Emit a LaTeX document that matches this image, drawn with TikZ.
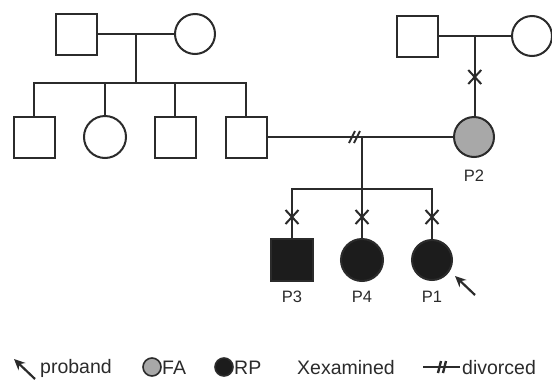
\documentclass[tikz,border=0pt]{standalone}
\usepackage{fontspec}
\setmainfont{Liberation Sans}
\usetikzlibrary{arrows.meta,calc}
\definecolor{ink}{HTML}{2B2B2B}
\definecolor{fagray}{HTML}{A8A8A8}
\definecolor{rpblack}{HTML}{1C1C1C}
\tikzset{
  male/.style={draw=ink, rectangle, minimum size=41pt, inner sep=0pt, line width=2pt},
  female/.style={draw=ink, circle, minimum size=41pt, inner sep=0pt, line width=2pt},
  fa/.style={fill=fagray},
  rp/.style={fill=rpblack},
  lbl/.style={font=\fontsize{16.5}{16.5}\selectfont, text=ink, inner sep=0pt},
  legtext/.style={font=\fontsize{19.5}{19.5}\selectfont, text=ink, inner sep=0pt, anchor=west},
  exam/.pic={\draw[ink, line width=2pt] (-6.5,-7) -- (6.5,7) (-6.5,7) -- (6.5,-7);},
  conn/.style={draw=ink, line width=2pt},
}
\begin{document}
\begin{tikzpicture}[x=1pt,y=-1pt]
\useasboundingbox[fill=white] (0,0) rectangle (552,381);

% generation I
\node[male] (gf1) at (76,34) {};
\node[female, minimum size=40pt] (gm1) at (195,34) {};
\node[male] (gf2) at (417,36) {};
\node[female, minimum size=40pt] (gm2) at (532,36) {};

% generation II
\node[male] (c1) at (34,137) {};
\node[female, minimum size=42pt] (c2) at (105,137) {};
\node[male] (c3) at (175,137) {};
\node[male] (c4) at (246,137) {};
\node[female, fa, minimum size=40pt] (p2) at (474,137) {};
\node[lbl] (lp2) at (474,176) {P2};

% generation III
\node[male, rp, minimum size=42pt] (p3) at (292,260) {};
\node[female, rp, minimum size=42pt] (p4) at (362,260) {};
\node[female, rp, minimum size=40pt] (p1) at (432,260) {};
\node[lbl] (lp3) at (292,297) {P3};
\node[lbl] (lp4) at (362,297) {P4};
\node[lbl] (lp1) at (432,297) {P1};

% family 1
\coordinate (m1) at ($(gf1.east)!0.5!(gm1.west)$);
\coordinate (s1) at (136,83);
\draw[conn] (gf1.east) -- (gm1.west);
\draw[conn] (m1) -- (m1 |- s1);
\draw[conn] (c1.north) |- (s1) -| (c4.north);
\draw[conn] (c2.north) -- (c2.north |- s1);
\draw[conn] (c3.north) -- (c3.north |- s1);

% family 2
\coordinate (m3) at ($(gf2.east)!0.5!(gm2.west)$);
\draw[conn] (gf2.east) -- (gm2.west);
\draw[conn] (m3) -- (m3 |- p2.north);
\pic at (m3 |- 0,77) {exam};

% divorced couple
\coordinate (m2) at (362,137);
\coordinate (s2) at (362,189);
\draw[conn] (c4.east) -- (p2.west);
\draw[conn] (349,143) -- (355,131) (354,143) -- (360,131);
\draw[conn] (m2) -- (s2);
\draw[conn] (p3.north) |- (s2) -| (p1.north);
\draw[conn] (p4.north) -- (p4.north |- s2);
\pic at (p3.north |- 0,217) {exam};
\pic at (p4.north |- 0,217) {exam};
\pic at (p1.north |- 0,217) {exam};

% proband arrow
\coordinate (a1) at (475,295);
\coordinate (a2) at (455,276);
\draw[conn, line width=2.2pt, -{Stealth[length=11pt,width=10pt]}] (a1) -- (a2);

% legend
\coordinate (la1) at (35,379);
\coordinate (la2) at (14,359);
\draw[conn, line width=2.2pt, -{Stealth[length=11pt,width=10pt]}] (la1) -- (la2);
\node[legtext] (tpro) at (40,368) {proband};
\node[draw=ink, circle, fill=fagray, minimum size=18pt, inner sep=0pt, line width=1.6pt] (lfa) at (152,367) {};
\node[legtext] (tfa) at (162,368) {FA};
\node[draw=ink, circle, fill=rpblack, minimum size=18pt, inner sep=0pt, line width=1.6pt] (lrp) at (224,367) {};
\node[legtext] (trp) at (234,368) {RP};
\node[legtext] (tex) at (297,368) {Xexamined};
\coordinate (ld1) at (423,367);
\coordinate (ld2) at (460,367);
\draw[conn, line width=2.4pt] (ld1) -- (ld2);
\draw[conn, line width=2.4pt] (438,373) -- (441,361) (443,373) -- (446,361);
\node[legtext] (tdiv) at (462,368) {divorced};
\end{tikzpicture}
\end{document}
